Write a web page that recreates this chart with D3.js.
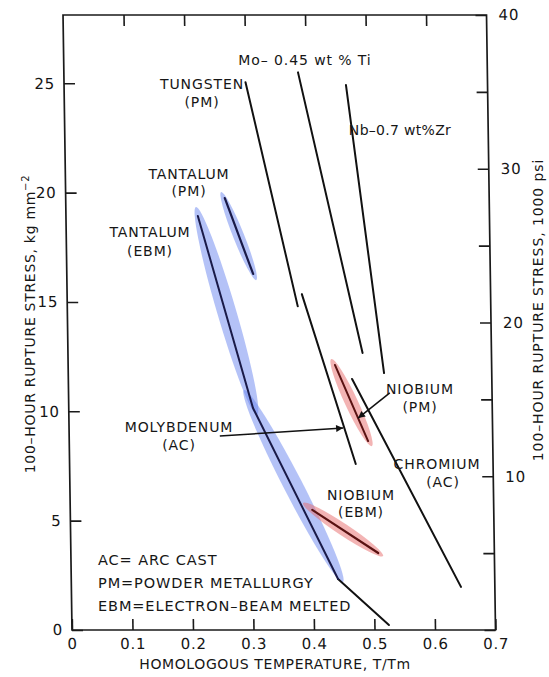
<!DOCTYPE html>
<html>
<head>
<meta charset="utf-8">
<script src="https://cdn.jsdelivr.net/npm/d3@7/dist/d3.min.js"></script>
<style>
  html, body { margin: 0; padding: 0; background: #fff; }
  svg { display: block; }
  text { font-family: "DejaVu Sans", "Liberation Sans", sans-serif; fill: #161616; }
</style>
</head>
<body>
<svg id="chart" width="549" height="677"></svg>
<script>
// ---------- data ----------
const xTicks = [0, 0.1, 0.2, 0.3, 0.4, 0.5, 0.6, 0.7];
const leftTicks = [0, 5, 10, 15, 20, 25];
const rightTicks = [0, 5, 10, 15, 20, 25, 30, 35, 40];
const rightLabels = [10, 20, 30, 40];
const ksiPerKgmm2 = 1.4223;

// lines: [T/Tm, stress kg/mm2]
const tungstenPM   = [[0.300, 25.05], [0.381, 14.80]];
const moTi         = [[0.387, 25.50], [0.487, 12.67]];
const nbZr         = [[0.466, 24.92], [0.522, 11.75]];
const molybdenumAC = [[0.388, 15.36], [0.473, 7.59]];
const chromiumAC   = [[0.469, 11.48], [0.644, 1.97]];
const niobiumPM    = [[0.441, 12.12], [0.494, 8.64]];
const niobiumEBM   = [[0.400, 5.49], [0.508, 3.52]];
const tantalumPM   = [[0.263, 19.75], [0.308, 16.28]];
const tantalumEBM  = [[0.218, 18.93], [0.3045, 10.15], [0.441, 2.33]];
const tantalumEBMTail = [[0.441, 2.33], [0.524, 0.23]];

// scatter bands: [start, end] in data units
const tantalumEBMBands = [[[0.215, 19.34], [0.311, 9.83]], [[0.290, 10.97], [0.449, 2.19]]];
const tantalumPMBands  = [[[0.257, 20.03], [0.313, 16.00]]];
const niobiumPMBands   = [[[0.435, 12.39], [0.500, 8.41]]];
const niobiumEBMBands  = [[[0.385, 5.81], [0.516, 3.38]]];

// annotation arrows: [from, to]
const moArrow   = [[0.249, 8.87], [0.453, 9.24]];
const nbPMArrow = [[0.531, 10.84], [0.478, 9.69]];

// ---------- layout ----------
const plot = { left: 67.5, right: 491, top: 15, bottom: 630 };
const skew = 0.0146, skewMid = 322;

const svg = d3.select("#chart");
const x = d3.scaleLinear().domain([0, 0.7]).range([plot.left, plot.right]);
const yMax = 40 / ksiPerKgmm2;
const y = d3.scaleLinear().domain([0, yMax]).range([plot.bottom, plot.top]);
const yR = d3.scaleLinear().domain([0, 40]).range([plot.bottom, plot.top]);

const g = svg.append("g")
  .attr("transform", `matrix(1,0,${skew},1,${-skew * skewMid},0)`);

// frame
g.append("rect")
  .attr("x", plot.left).attr("y", plot.top)
  .attr("width", plot.right - plot.left).attr("height", plot.bottom - plot.top)
  .attr("fill", "none").attr("stroke", "#1a1a1a").attr("stroke-width", 1.7);

const tickLen = 11;
function styleAxis(sel) {
  sel.select(".domain").remove();
  sel.selectAll(".tick line").attr("stroke", "#1a1a1a").attr("stroke-width", 1.6);
  sel.selectAll(".tick text").attr("font-size", 15).attr("fill", "#161616")
     .attr("letter-spacing", 0.8)
     .attr("font-family", '"DejaVu Sans", sans-serif');
}

g.append("g").attr("transform", `translate(0,${plot.bottom})`)
  .call(d3.axisBottom(x).tickValues(xTicks).tickSizeInner(-tickLen).tickSizeOuter(0)
        .tickPadding(8).tickFormat(d => d === 0 ? "0" : d3.format(".1f")(d)))
  .call(styleAxis);

g.append("g").attr("transform", `translate(0,${plot.top})`)
  .call(d3.axisTop(x).tickValues(xTicks.slice(1, -1)).tickSizeInner(-tickLen).tickSizeOuter(0)
        .tickFormat(""))
  .call(styleAxis);

g.append("g").attr("transform", `translate(${plot.left},0)`)
  .call(d3.axisLeft(y).tickValues(leftTicks).tickSizeInner(-tickLen).tickSizeOuter(0)
        .tickPadding(9).tickFormat(d3.format("d")))
  .call(styleAxis);

g.append("g").attr("transform", `translate(${plot.right},0)`)
  .call(d3.axisRight(yR).tickValues(rightTicks).tickSizeInner(-tickLen).tickSizeOuter(0)
        .tickPadding(12).tickFormat(d => rightLabels.includes(d) ? String(d) : ""))
  .call(styleAxis);

// bands
function drawBands(bands, fill, halfW) {
  bands.forEach(([a, b]) => {
    const x1 = x(a[0]), y1 = y(a[1]), x2 = x(b[0]), y2 = y(b[1]);
    const cx = (x1 + x2) / 2, cy = (y1 + y2) / 2;
    const len = Math.hypot(x2 - x1, y2 - y1);
    const ang = Math.atan2(y2 - y1, x2 - x1) * 180 / Math.PI;
    g.append("ellipse")
      .attr("cx", 0).attr("cy", 0).attr("rx", len / 2).attr("ry", halfW)
      .attr("transform", `translate(${cx},${cy}) rotate(${ang})`)
      .attr("fill", fill).attr("fill-opacity", 0.5);
  });
}
drawBands(tantalumEBMBands, "#6a86f0", 9.5);
drawBands(tantalumPMBands, "#6a86f0", 5.5);
drawBands(niobiumPMBands, "#e86a6a", 6.5);
drawBands(niobiumEBMBands, "#e86a6a", 6);

// lines
const line = d3.line().x(d => x(d[0])).y(d => y(d[1]));
function drawLine(data, color, w) {
  g.append("path").attr("d", line(data)).attr("fill", "none")
    .attr("stroke", color).attr("stroke-width", w)
    .attr("stroke-linejoin", "round").attr("stroke-linecap", "round");
}
drawLine(tungstenPM, "#111", 2);
drawLine(moTi, "#111", 2);
drawLine(nbZr, "#111", 2);
drawLine(molybdenumAC, "#111", 2);
drawLine(chromiumAC, "#111", 2);
drawLine(tantalumEBMTail, "#111", 2);
drawLine(tantalumEBM, "#1a1a48", 2);
drawLine(tantalumPM, "#1a1a48", 2.2);
drawLine(niobiumPM, "#5a1212", 2);
drawLine(niobiumEBM, "#5a1212", 2.2);

// arrows
svg.append("defs").append("marker")
  .attr("id", "arrow").attr("viewBox", "0 0 10 10").attr("refX", 10).attr("refY", 5)
  .attr("markerWidth", 9).attr("markerHeight", 7).attr("markerUnits", "userSpaceOnUse")
  .attr("orient", "auto")
  .append("path").attr("d", "M0,0 L10,5 L0,10 Z").attr("fill", "#111");
[moArrow, nbPMArrow].forEach(a => {
  g.append("path").attr("d", line(a)).attr("fill", "none")
    .attr("stroke", "#111").attr("stroke-width", 1.5).attr("marker-end", "url(#arrow)");
});

// labels (pixel layout)
const labels = [
  { t: "Mo\u2013 0.45 wt % Ti", x: 305, y: 60, ls: 0.9 },
  { t: "TUNGSTEN", x: 202, y: 84 },
  { t: "(PM)", x: 202, y: 102 },
  { t: "Nb\u20130.7 wt%Zr", x: 400, y: 130, ls: 0.3 },
  { t: "TANTALUM", x: 189, y: 174 },
  { t: "(PM)", x: 189, y: 191 },
  { t: "TANTALUM", x: 150, y: 232 },
  { t: "(EBM)", x: 150, y: 251 },
  { t: "MOLYBDENUM", x: 179, y: 427 },
  { t: "(AC)", x: 179, y: 445 },
  { t: "NIOBIUM", x: 420, y: 389 },
  { t: "(PM)", x: 420, y: 407 },
  { t: "CHROMIUM", x: 437, y: 464 },
  { t: "(AC)", x: 443, y: 482 },
  { t: "NIOBIUM", x: 361, y: 495 },
  { t: "(EBM)", x: 361, y: 512 },
];
svg.append("g").selectAll("text").data(labels).join("text")
  .attr("x", d => d.x).attr("y", d => d.y).attr("dy", "0.36em")
  .attr("text-anchor", "middle").attr("font-size", 14)
  .attr("letter-spacing", d => d.ls != null ? d.ls : 0.9)
  .text(d => d.t);

const legend = ["AC= ARC CAST", "PM=POWDER METALLURGY", "EBM=ELECTRON\u2013BEAM MELTED"];
svg.append("g").selectAll("text").data(legend).join("text")
  .attr("x", 98).attr("y", (d, i) => 560 + i * 23).attr("dy", "0.36em")
  .attr("font-size", 14.5).attr("letter-spacing", 0.9).text(d => d);

// axis titles
svg.append("text").attr("x", 275).attr("y", 669)
  .attr("text-anchor", "middle").attr("font-size", 14).attr("letter-spacing", 0.6)
  .text("HOMOLOGOUS TEMPERATURE, T/Tm");

const lt = svg.append("text").attr("transform", "translate(30,324) rotate(-90)")
  .attr("text-anchor", "middle").attr("dy", "0.36em").attr("font-size", 14).attr("letter-spacing", 0.7);
lt.append("tspan").text("100\u2013HOUR RUPTURE STRESS, kg mm");
lt.append("tspan").attr("dy", -6).attr("font-size", 10).text("\u22122");

svg.append("text").attr("transform", "translate(538,310) rotate(-90)")
  .attr("text-anchor", "middle").attr("dy", "0.36em").attr("font-size", 14).attr("letter-spacing", 0.9)
  .text("100\u2013HOUR RUPTURE STRESS, 1000 psi");
</script>
</body>
</html>
